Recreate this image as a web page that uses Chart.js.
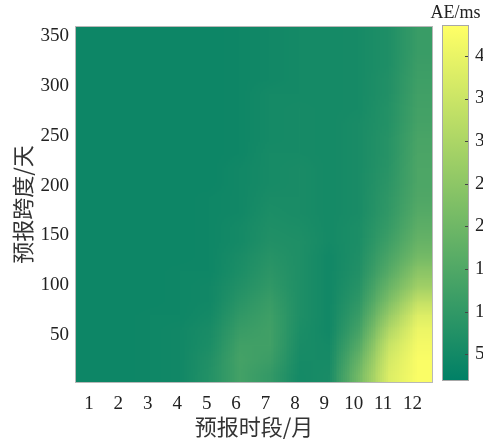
<!DOCTYPE html>
<html>
<head>
<meta charset="utf-8">
<script src="https://cdn.jsdelivr.net/npm/chart.js@4.4.0/dist/chart.umd.min.js"></script>
<style>
  body { margin: 0; background: #fff; overflow: hidden; }
  canvas { position: absolute; left: 0; top: 0; }
</style>
</head>
<body>
<canvas id="heat" width="483" height="440"></canvas>
<canvas id="bar" width="483" height="440"></canvas>
<script>
// months on x, forecast span (days) on y
var months = [1, 2, 3, 4, 5, 6, 7, 8, 9, 10, 11, 12];
var dayTicks = [50, 100, 150, 200, 250, 300, 350];
var barTicks = [5, 10, 15, 20, 25, 30, 35, 40];
var aeMin = 2, aeMax = 43.5;

// AE values, one row per ~15 day band, bottom (day 8) to top (day 357)
var ae = [
    [4.1, 4.1, 4.5, 4.9, 7.9, 12.9, 10.4, 5.4, 6.2, 20.9, 37.7, 42.7],
    [4.1, 4.1, 4.5, 4.9, 7.5, 13.3, 11.7, 5.8, 5.8, 18.8, 36.4, 42.7],
    [4.1, 4.1, 4.5, 4.9, 6.6, 12.5, 12.5, 6.2, 5.4, 15.9, 34.3, 41.9],
    [4.1, 4.1, 4.5, 4.9, 6.2, 11.2, 12.5, 6.6, 4.9, 13.3, 30.6, 40.6],
    [4.1, 4.1, 4.5, 4.5, 5.4, 10.0, 12.1, 7.0, 4.9, 11.2, 26.4, 38.1],
    [4.1, 4.1, 4.1, 4.5, 4.9, 8.7, 11.2, 7.0, 4.9, 9.6, 22.2, 33.5],
    [4.1, 4.1, 4.1, 4.5, 4.9, 7.5, 10.0, 7.0, 4.9, 8.3, 18.8, 28.0],
    [4.1, 4.1, 4.1, 4.5, 4.5, 6.6, 9.1, 7.0, 4.9, 7.5, 15.9, 24.7],
    [4.1, 4.1, 4.1, 4.1, 4.5, 6.2, 8.3, 7.0, 4.9, 7.0, 13.8, 20.9],
    [4.1, 4.1, 4.1, 4.1, 4.5, 5.4, 7.5, 7.0, 5.4, 6.6, 12.1, 18.8],
    [4.1, 4.1, 4.1, 4.1, 4.5, 5.4, 7.0, 6.6, 5.4, 6.6, 10.8, 17.1],
    [4.1, 4.1, 4.1, 4.1, 4.5, 4.9, 6.6, 6.2, 5.4, 6.2, 10.0, 15.9],
    [4.1, 4.1, 4.1, 4.1, 4.5, 4.9, 6.2, 6.2, 5.4, 6.2, 9.6, 15.0],
    [4.1, 4.1, 4.1, 4.1, 4.1, 4.9, 5.8, 6.2, 5.4, 6.2, 9.1, 14.6],
    [4.1, 4.1, 4.1, 4.1, 4.1, 4.9, 5.8, 6.2, 5.4, 6.2, 8.7, 14.6],
    [4.1, 4.1, 4.1, 4.1, 4.1, 4.5, 5.8, 5.8, 5.4, 6.2, 8.3, 14.2],
    [4.1, 4.1, 4.1, 4.1, 4.1, 4.5, 5.4, 5.8, 5.4, 6.2, 8.3, 13.8],
    [4.1, 4.1, 4.1, 4.1, 4.1, 4.5, 5.4, 5.8, 5.4, 6.2, 7.9, 13.3],
    [4.1, 4.1, 4.1, 4.1, 4.1, 4.5, 5.4, 5.8, 5.4, 5.8, 7.9, 12.9],
    [4.1, 4.1, 4.1, 4.1, 4.1, 4.5, 5.4, 5.4, 5.4, 5.8, 7.5, 12.5],
    [4.1, 4.1, 4.1, 4.1, 4.1, 4.5, 4.9, 5.4, 5.4, 5.8, 7.5, 12.1],
    [4.1, 4.1, 4.1, 4.1, 4.1, 4.5, 4.9, 5.4, 5.4, 5.8, 7.0, 11.7],
    [4.1, 4.1, 4.1, 4.1, 4.1, 4.5, 4.9, 5.4, 5.4, 5.8, 7.0, 11.2],
    [4.1, 4.1, 4.1, 4.1, 4.1, 4.5, 4.9, 5.4, 5.4, 5.8, 7.0, 11.2]
];

// matlab "summer" colormap
function summer(v) {
    var t = (v - aeMin) / (aeMax - aeMin);
    t = Math.max(0, Math.min(1, t));
    return [Math.round(255 * t), Math.round(255 * (0.5 + 0.5 * t)), 102];
}

var serif = "'Liberation Serif', 'Times New Roman', serif";
var cjk = "'Noto Sans CJK SC', sans-serif";

var heatPlugin = {
    id: 'heat',
    beforeDatasetsDraw: function(chart) {
        var xs = chart.scales.x, ys = chart.scales.y;
        var rows = ae.length, cols = months.length;
        var off = document.createElement('canvas');
        off.width = cols; off.height = rows;
        var octx = off.getContext('2d');
        var img = octx.createImageData(cols, rows);
        for (var r = 0; r < rows; r++) {
            for (var c = 0; c < cols; c++) {
                var col = summer(ae[r][c]);
                var k = ((rows - 1 - r) * cols + c) * 4;
                img.data[k] = col[0]; img.data[k + 1] = col[1]; img.data[k + 2] = col[2]; img.data[k + 3] = 255;
            }
        }
        octx.putImageData(img, 0, 0);
        var x0 = xs.getPixelForValue(xs.min);
        var x1 = xs.getPixelForValue(xs.max);
        var y0 = ys.getPixelForValue(ys.max);
        var y1 = ys.getPixelForValue(ys.min);
        var ctx = chart.ctx;
        ctx.save();
        ctx.imageSmoothingEnabled = true;
        ctx.imageSmoothingQuality = 'low';
        ctx.drawImage(off, x0, y0, x1 - x0, y1 - y0);
        ctx.strokeStyle = '#b8b8b8';
        ctx.lineWidth = 1;
        var a = chart.chartArea;
        ctx.strokeRect(a.left - 0.5, a.top - 0.5, a.right - a.left + 1, a.bottom - a.top + 1);
        ctx.restore();
    }
};

new Chart(document.getElementById('heat'), {
    type: 'scatter',
    data: { datasets: [{ data: [], pointRadius: 0 }] },
    options: {
        responsive: false,
        animation: false,
        layout: { padding: { top: 27, right: 51, left: 0, bottom: 0 } },
        plugins: { legend: { display: false }, tooltip: { enabled: false } },
        scales: {
            x: {
                type: 'linear', min: 0.56, max: 12.66,
                afterBuildTicks: function(s) { s.ticks = months.map(function(v) { return { value: v }; }); },
                afterFit: function(s) { s.height = 58; },
                grid: { display: false, drawTicks: false },
                border: { display: false },
                ticks: { color: '#222', font: { family: serif, size: 19 }, padding: 11, maxRotation: 0, autoSkip: false },
                title: { display: true, text: '预报时段/月', color: '#333', font: { family: cjk, size: 22 }, padding: { top: 0, bottom: 0 } }
            },
            y: {
                type: 'linear', min: 3, max: 359,
                afterBuildTicks: function(s) { s.ticks = dayTicks.map(function(v) { return { value: v }; }); },
                afterFit: function(s) { s.width = 76; },
                grid: { display: false, drawTicks: false },
                border: { display: false },
                ticks: { color: '#222', font: { family: serif, size: 19 }, padding: 7, autoSkip: false },
                title: { display: true, text: '预报跨度/天', color: '#333', font: { family: cjk, size: 22 }, padding: { top: 9, bottom: 0 } }
            }
        }
    },
    plugins: [heatPlugin]
});

var barPlugin = {
    id: 'colorbar',
    beforeDatasetsDraw: function(chart) {
        var ys = chart.scales.y, a = chart.chartArea, ctx = chart.ctx;
        var yLo = ys.getPixelForValue(aeMin), yHi = ys.getPixelForValue(aeMax);
        var g = ctx.createLinearGradient(0, yLo, 0, yHi);
        var c0 = summer(aeMin), c1 = summer(aeMax);
        g.addColorStop(0, 'rgb(' + c0.join(',') + ')');
        g.addColorStop(1, 'rgb(' + c1.join(',') + ')');
        ctx.save();
        ctx.fillStyle = g;
        ctx.fillRect(a.left, yHi, a.right - a.left, yLo - yHi);
        ctx.strokeStyle = '#a8a8a8';
        ctx.lineWidth = 1;
        ctx.strokeRect(a.left - 0.5, yHi - 0.5, a.right - a.left + 1, yLo - yHi + 1);
        // tick marks inside the bar
        ctx.strokeStyle = '#444';
        ys.ticks.forEach(function(t) {
            var y = Math.round(ys.getPixelForValue(t.value)) + 0.5;
            ctx.beginPath();
            ctx.moveTo(a.right - 3, y);
            ctx.lineTo(a.right, y);
            ctx.stroke();
        });
        // unit label centred over the bar
        ctx.fillStyle = '#222';
        ctx.font = '18px ' + serif;
        ctx.textAlign = 'center';
        ctx.textBaseline = 'alphabetic';
        ctx.fillText('AE/ms', (a.left + a.right) / 2, 18);
        ctx.restore();
    }
};

new Chart(document.getElementById('bar'), {
    type: 'scatter',
    data: { datasets: [{ data: [], pointRadius: 0 }] },
    options: {
        responsive: false,
        animation: false,
        layout: { padding: { top: 26, left: 443, right: 0, bottom: 60 } },
        plugins: { legend: { display: false }, tooltip: { enabled: false } },
        scales: {
            x: { display: false, min: 0, max: 1 },
            y: {
                position: 'right', min: aeMin, max: aeMax,
                afterBuildTicks: function(s) { s.ticks = barTicks.map(function(v) { return { value: v }; }); },
                afterFit: function(s) { s.width = 15; },
                grid: { display: false, drawTicks: false },
                border: { display: false },
                ticks: { color: '#222', font: { family: serif, size: 19 }, padding: 7, autoSkip: false }
            }
        }
    },
    plugins: [barPlugin]
});
</script>
</body>
</html>
